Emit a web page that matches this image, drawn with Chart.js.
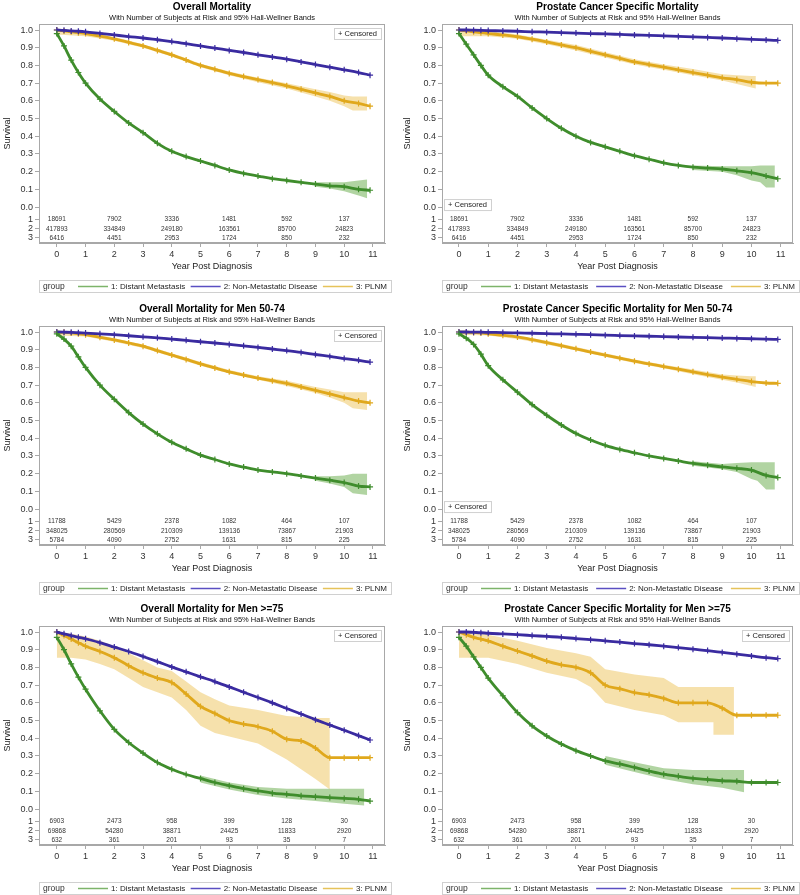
<!DOCTYPE html>
<html>
<head>
<meta charset="utf-8">
<script src="https://cdn.jsdelivr.net/npm/chart.js@4"></script>
<style>
  body { margin: 0; background: #fff; overflow: hidden; }
  canvas { position: absolute; }
</style>
</head>
<body>
<canvas id="c1" width="400" height="300" style="left:0;top:0"></canvas>
<canvas id="c2" width="400" height="300" style="left:400px;top:0"></canvas>
<canvas id="c3" width="400" height="300" style="left:0;top:302px"></canvas>
<canvas id="c4" width="400" height="300" style="left:400px;top:302px"></canvas>
<canvas id="c5" width="400" height="300" style="left:0;top:602px"></canvas>
<canvas id="c6" width="400" height="300" style="left:400px;top:602px"></canvas>
<script>
// time grid the curves were read at (years)
const years = [0, 0.25, 0.5, 0.75, 1, 1.5, 2, 2.5, 3, 3.5, 4, 4.5, 5, 5.5, 6, 6.5, 7, 7.5, 8, 8.5, 9, 9.5, 10, 10.5, 10.9];
const riskYears = [0, 2, 4, 6, 8, 10];
const xTicks = [0, 1, 2, 3, 4, 5, 6, 7, 8, 9, 10, 11];
const yTicks = [0, 0.1, 0.2, 0.3, 0.4, 0.5, 0.6, 0.7, 0.8, 0.9, 1.0];
const groupNames = ['1: Distant Metastasis', '2: Non-Metastatic Disease', '3: PLNM'];
const subtitle = 'With Number of Subjects at Risk and 95% Hall-Wellner Bands';

// Overall Mortality
const p1Dm = [0.98, 0.91, 0.83, 0.76, 0.70, 0.61, 0.54, 0.475, 0.42, 0.36, 0.315, 0.285, 0.26, 0.235, 0.21, 0.19, 0.175, 0.16, 0.15, 0.14, 0.13, 0.12, 0.115, 0.10, 0.095];
const p1Nm = [1.0, 0.998, 0.995, 0.993, 0.99, 0.981, 0.972, 0.963, 0.955, 0.945, 0.935, 0.923, 0.91, 0.898, 0.885, 0.873, 0.86, 0.848, 0.835, 0.82, 0.805, 0.79, 0.775, 0.76, 0.745];
const p1Pl = [1.0, 0.995, 0.99, 0.985, 0.98, 0.966, 0.95, 0.93, 0.91, 0.885, 0.86, 0.83, 0.80, 0.778, 0.755, 0.737, 0.72, 0.703, 0.685, 0.665, 0.645, 0.625, 0.60, 0.585, 0.57];
const p1DmBandX = [9, 9.5, 10, 10.5, 10.8];
const p1DmBandLo = [0.115, 0.105, 0.09, 0.065, 0.05];
const p1DmBandHi = [0.14, 0.14, 0.14, 0.15, 0.155];
const p1PlBandX = [0, 1, 2, 3, 4, 5, 6, 7, 8, 9, 9.5, 10, 10.3, 10.8];
const p1PlBandLo = [0.975, 0.965, 0.94, 0.90, 0.85, 0.79, 0.745, 0.705, 0.67, 0.625, 0.60, 0.57, 0.545, 0.545];
const p1PlBandHi = [1.0, 0.995, 0.96, 0.92, 0.87, 0.81, 0.765, 0.73, 0.70, 0.665, 0.65, 0.63, 0.625, 0.625];

// Prostate Cancer Specific Mortality
const p2Dm = [0.98, 0.92, 0.86, 0.80, 0.745, 0.68, 0.625, 0.56, 0.50, 0.445, 0.40, 0.365, 0.34, 0.315, 0.29, 0.27, 0.25, 0.235, 0.225, 0.22, 0.215, 0.205, 0.195, 0.175, 0.16];
const p2Nm = [1.0, 1.0, 0.999, 0.998, 0.997, 0.995, 0.993, 0.99, 0.988, 0.985, 0.983, 0.98, 0.978, 0.975, 0.972, 0.97, 0.967, 0.964, 0.961, 0.958, 0.955, 0.951, 0.947, 0.944, 0.941];
const p2Pl = [1.0, 0.995, 0.99, 0.985, 0.98, 0.972, 0.962, 0.948, 0.933, 0.916, 0.90, 0.88, 0.86, 0.84, 0.82, 0.805, 0.79, 0.775, 0.76, 0.745, 0.73, 0.72, 0.705, 0.70, 0.70];
const p2DmBandX = [8, 9, 9.5, 10, 10.3, 10.5, 10.8];
const p2DmBandLo = [0.21, 0.20, 0.18, 0.15, 0.14, 0.11, 0.11];
const p2DmBandHi = [0.235, 0.23, 0.23, 0.23, 0.235, 0.235, 0.235];
const p2PlBandX = [0, 1, 2, 3, 4, 5, 6, 7, 8, 9, 9.5, 10, 10.15];
const p2PlBandLo = [0.965, 0.965, 0.95, 0.92, 0.885, 0.845, 0.805, 0.775, 0.745, 0.715, 0.695, 0.675, 0.67];
const p2PlBandHi = [1.0, 0.995, 0.975, 0.945, 0.915, 0.875, 0.835, 0.805, 0.78, 0.75, 0.745, 0.74, 0.74];

// Overall Mortality for Men 50-74
const p3Dm = [0.99, 0.96, 0.92, 0.86, 0.80, 0.70, 0.62, 0.545, 0.48, 0.425, 0.377, 0.34, 0.305, 0.28, 0.255, 0.237, 0.22, 0.21, 0.20, 0.187, 0.175, 0.163, 0.15, 0.13, 0.125];
const p3Nm = [1.0, 0.999, 0.998, 0.996, 0.994, 0.99, 0.985, 0.979, 0.973, 0.967, 0.96, 0.953, 0.945, 0.938, 0.93, 0.922, 0.913, 0.904, 0.895, 0.885, 0.873, 0.862, 0.85, 0.84, 0.83];
const p3Pl = [1.0, 0.998, 0.995, 0.99, 0.985, 0.97, 0.955, 0.938, 0.92, 0.895, 0.87, 0.845, 0.82, 0.797, 0.775, 0.757, 0.74, 0.725, 0.71, 0.69, 0.67, 0.65, 0.63, 0.61, 0.60];
const p3DmBandX = [9, 9.5, 10, 10.3, 10.8];
const p3DmBandLo = [0.16, 0.145, 0.125, 0.09, 0.08];
const p3DmBandHi = [0.185, 0.185, 0.19, 0.20, 0.20];
const p3PlBandX = [0, 1, 2, 3, 4, 5, 6, 7, 8, 9, 9.5, 10, 10.3, 10.8];
const p3PlBandLo = [0.98, 0.975, 0.945, 0.91, 0.86, 0.81, 0.765, 0.73, 0.695, 0.655, 0.63, 0.60, 0.57, 0.56];
const p3PlBandHi = [1.0, 0.995, 0.965, 0.93, 0.88, 0.83, 0.785, 0.75, 0.725, 0.69, 0.675, 0.66, 0.66, 0.66];

// Prostate Cancer Specific Mortality for Men 50-74
const p4Dm = [0.99, 0.965, 0.93, 0.875, 0.81, 0.73, 0.66, 0.59, 0.53, 0.475, 0.427, 0.39, 0.36, 0.337, 0.318, 0.30, 0.286, 0.272, 0.258, 0.248, 0.238, 0.23, 0.22, 0.19, 0.178];
const p4Nm = [1.0, 1.0, 0.999, 0.999, 0.998, 0.997, 0.995, 0.993, 0.991, 0.989, 0.987, 0.985, 0.982, 0.98, 0.978, 0.976, 0.974, 0.972, 0.97, 0.968, 0.966, 0.964, 0.962, 0.96, 0.958];
const p4Pl = [1.0, 0.999, 0.997, 0.995, 0.99, 0.982, 0.972, 0.957, 0.94, 0.923, 0.905, 0.887, 0.87, 0.852, 0.835, 0.82, 0.805, 0.79, 0.775, 0.76, 0.745, 0.733, 0.72, 0.712, 0.71];
const p4DmBandX = [8, 9, 9.5, 10, 10.2, 10.5, 10.8];
const p4DmBandLo = [0.245, 0.225, 0.21, 0.17, 0.16, 0.11, 0.11];
const p4DmBandHi = [0.27, 0.255, 0.26, 0.265, 0.265, 0.265, 0.265];
const p4PlBandX = [0, 1, 2, 3, 4, 5, 6, 7, 8, 9, 9.5, 10, 10.15];
const p4PlBandLo = [0.985, 0.98, 0.96, 0.93, 0.895, 0.86, 0.825, 0.795, 0.762, 0.73, 0.715, 0.695, 0.69];
const p4PlBandHi = [1.0, 1.0, 0.98, 0.95, 0.915, 0.88, 0.845, 0.815, 0.788, 0.76, 0.755, 0.75, 0.75];

// Overall Mortality for Men >=75
const p5Dm = [0.97, 0.90, 0.82, 0.745, 0.677, 0.555, 0.45, 0.376, 0.316, 0.263, 0.225, 0.195, 0.173, 0.15, 0.132, 0.115, 0.103, 0.09, 0.083, 0.075, 0.07, 0.065, 0.06, 0.055, 0.045];
const p5Nm = [1.0, 0.99, 0.98, 0.97, 0.962, 0.94, 0.915, 0.89, 0.862, 0.833, 0.803, 0.775, 0.747, 0.72, 0.69, 0.66, 0.63, 0.60, 0.568, 0.537, 0.505, 0.475, 0.445, 0.415, 0.39];
const p5Pl = [1.0, 0.98, 0.96, 0.94, 0.92, 0.89, 0.855, 0.81, 0.77, 0.74, 0.715, 0.65, 0.58, 0.54, 0.50, 0.48, 0.465, 0.44, 0.395, 0.385, 0.345, 0.29, 0.29, 0.29, 0.29];
const p5DmBandX = [5, 6, 7, 8, 9, 10, 10.7];
const p5DmBandLo = [0.15, 0.11, 0.08, 0.06, 0.045, 0.03, 0.02];
const p5DmBandHi = [0.19, 0.15, 0.125, 0.115, 0.115, 0.115, 0.115];
const p5PlBandX = [0, 0.5, 1, 1.5, 2, 2.5, 3, 3.5, 4, 4.5, 5, 5.5, 6, 7, 8, 9, 9.5];
const p5PlBandLo = [0.855, 0.855, 0.845, 0.82, 0.79, 0.74, 0.69, 0.66, 0.63, 0.56, 0.47, 0.43, 0.41, 0.37, 0.28, 0.17, 0.11];
const p5PlBandHi = [1.0, 0.99, 0.975, 0.95, 0.92, 0.88, 0.84, 0.80, 0.78, 0.72, 0.66, 0.62, 0.585, 0.56, 0.525, 0.515, 0.515];

// Prostate Cancer Specific Mortality for Men >=75
const p6Dm = [0.97, 0.92, 0.86, 0.80, 0.74, 0.64, 0.545, 0.47, 0.413, 0.367, 0.33, 0.30, 0.272, 0.255, 0.235, 0.215, 0.197, 0.185, 0.173, 0.167, 0.16, 0.157, 0.15, 0.15, 0.15];
const p6Nm = [1.0, 1.0, 0.998, 0.996, 0.993, 0.989, 0.985, 0.98, 0.975, 0.97, 0.963, 0.957, 0.95, 0.943, 0.935, 0.928, 0.92, 0.912, 0.903, 0.895, 0.885, 0.875, 0.865, 0.855, 0.85];
const p6Pl = [1.0, 0.985, 0.97, 0.96, 0.95, 0.92, 0.893, 0.865, 0.836, 0.815, 0.80, 0.77, 0.70, 0.68, 0.658, 0.645, 0.625, 0.60, 0.60, 0.60, 0.57, 0.53, 0.53, 0.53, 0.53];
const p6DmBandX = [5, 6, 7, 8, 9, 9.75];
const p6DmBandLo = [0.25, 0.21, 0.17, 0.14, 0.12, 0.095];
const p6DmBandHi = [0.30, 0.265, 0.23, 0.22, 0.22, 0.22];
const p6PlBandX = [0, 1, 2, 3, 4, 4.5, 5, 6, 7, 7.5, 8.7, 8.7, 9.4];
const p6PlBandLo = [0.855, 0.855, 0.82, 0.77, 0.735, 0.69, 0.60, 0.56, 0.53, 0.49, 0.49, 0.42, 0.42];
const p6PlBandHi = [1.0, 0.985, 0.95, 0.91, 0.88, 0.86, 0.79, 0.76, 0.74, 0.69, 0.69, 0.69, 0.69];

// number of subjects at risk (rows: group 1, 2, 3)
const riskAll = [[18691, 7902, 3336, 1481, 592, 137], [417893, 334849, 249180, 163561, 85700, 24823], [6416, 4451, 2953, 1724, 850, 232]];
const risk5074 = [[11788, 5429, 2378, 1082, 464, 107], [348025, 280569, 210309, 139136, 73867, 21903], [5784, 4090, 2752, 1631, 815, 225]];
const risk75 = [[6903, 2473, 958, 399, 128, 30], [69868, 54280, 38871, 24425, 11833, 2920], [632, 361, 201, 93, 35, 7]];

// styles
const FONT = "'Liberation Sans', Arial, sans-serif";
const lineColors = ['#3f8d2c', '#3a2ba0', '#e0a81c'];
const legendColors = ['#7db46a', '#5a4fc2', '#e6c35a'];
const bandColors = ['rgba(100,170,70,0.5)', null, 'rgba(238,196,90,0.5)'];
const rowVals = [-0.068, -0.123, -0.174];

Chart.defaults.font.family = FONT;
Chart.defaults.color = '#222';

const xy = (xs, ys) => xs.map((x, i) => ({ x: x, y: ys[i] }));

// frame, at-risk table, censored box and group legend
const kmPlugin = {
    id: 'km',
    afterDraw(chart) {
        const o = chart.options.plugins.km;
        const { ctx, chartArea: a, scales: { x, y } } = chart;
        ctx.save();
        ctx.strokeStyle = '#a8a8a8';
        ctx.lineWidth = 1;
        ctx.strokeRect(a.left + 0.5, a.top + 0.5, a.right - a.left - 1, a.bottom - a.top - 1);

        // at risk numbers
        ctx.fillStyle = '#333';
        ctx.font = '6.5px ' + FONT;
        ctx.textAlign = 'center';
        ctx.textBaseline = 'middle';
        o.risk.forEach((row, r) => {
            row.forEach((n, i) => {
                ctx.fillText(String(n), x.getPixelForValue(riskYears[i]), y.getPixelForValue(rowVals[r]));
            });
        });

        // censored box
        ctx.font = '7.5px ' + FONT;
        const cw = ctx.measureText('+ Censored').width + 8;
        let cx, cy;
        if (o.censor === 'tr') { cx = a.right - 4 - cw; cy = a.top + 4; }
        else { cx = a.left + 2; cy = y.getPixelForValue(0) - 8; }
        ctx.fillStyle = '#fff';
        ctx.fillRect(cx, cy, cw, 11);
        ctx.strokeStyle = '#d0d0d0';
        ctx.strokeRect(cx + 0.5, cy + 0.5, cw, 11);
        ctx.fillStyle = '#222';
        ctx.textAlign = 'left';
        ctx.fillText('+ Censored', cx + 4, cy + 6);

        // group legend
        const ly = a.bottom + 37;
        const lr = a.right + 6;
        ctx.strokeStyle = '#d0d0d0';
        ctx.strokeRect(a.left + 0.5, ly + 0.5, lr - a.left, 12);
        ctx.font = '8.5px ' + FONT;
        ctx.fillStyle = '#333';
        ctx.fillText('group', a.left + 4, ly + 7);
        ctx.font = '8px ' + FONT;
        const widths = groupNames.map(g => ctx.measureText(g).width);
        const lineW = 30;
        const startX = a.left + 39;
        const total = widths.reduce((s, w) => s + w + lineW + 3, 0);
        const gap = (lr - 4 - startX - total) / 2;
        let px = startX;
        groupNames.forEach((g, i) => {
            ctx.strokeStyle = legendColors[i];
            ctx.lineWidth = 1.5;
            ctx.beginPath();
            ctx.moveTo(px, ly + 6.5);
            ctx.lineTo(px + lineW, ly + 6.5);
            ctx.stroke();
            ctx.fillStyle = '#222';
            ctx.fillText(g, px + lineW + 3, ly + 7);
            px += lineW + 3 + widths[i] + gap;
        });
        ctx.restore();
    }
};

function makePanel(id, title, curves, bands, risk, censor, side) {
    const datasets = [];
    curves.forEach((c, i) => {
        datasets.push({
            data: xy(years, c),
            borderColor: lineColors[i],
            borderWidth: 2.8,
            pointStyle: 'cross',
            pointRadius: 3,
            pointBorderWidth: 1.2,
            pointBorderColor: lineColors[i],
            cubicInterpolationMode: 'monotone',
            fill: false,
            order: 0
        });
    });
    bands.forEach(b => {
        datasets.push({
            data: xy(b.x, b.lo), borderWidth: 0, pointRadius: 0, fill: false, order: 1
        });
        datasets.push({
            data: xy(b.x, b.hi), borderWidth: 0, pointRadius: 0,
            fill: '-1', backgroundColor: bandColors[b.g], order: 1
        });
    });

    return new Chart(document.getElementById(id), {
        type: 'line',
        data: { datasets: datasets },
        options: {
            responsive: false,
            animation: false,
            devicePixelRatio: 1,
            layout: { padding: { top: 1, left: 0, right: side === 'left' ? 15 : 7, bottom: 27 } },
            plugins: {
                legend: { display: false },
                tooltip: { enabled: false },
                title: {
                    display: true, text: title, fullSize: false, color: '#000',
                    font: { size: 10, weight: 'bold' }, padding: { top: 0, bottom: 0 }
                },
                subtitle: {
                    display: true, text: subtitle, fullSize: false, color: '#111',
                    font: { size: 7.5 }, padding: { top: 0, bottom: 2 }
                },
                km: { risk: risk, censor: censor }
            },
            scales: {
                x: {
                    type: 'linear',
                    min: side === 'left' ? -0.62 : -0.58,
                    max: 11.42,
                    afterBuildTicks: s => { s.ticks = xTicks.map(v => ({ value: v })); },
                    afterFit: s => { s.height = 30; },
                    ticks: { font: { size: 9 }, color: '#333', padding: 2, autoSkip: false, maxRotation: 0 },
                    grid: { drawOnChartArea: false, tickLength: 4, color: '#a8a8a8' },
                    border: { color: '#a8a8a8' },
                    title: { display: true, text: 'Year Post Diagnosis', font: { size: 9 }, color: '#222', padding: { top: 0, bottom: 1 } }
                },
                y: {
                    min: -0.203,
                    max: 1.034,
                    afterBuildTicks: s => { s.ticks = rowVals.slice().reverse().concat(yTicks).map(v => ({ value: v })); },
                    afterFit: s => { s.width = side === 'left' ? 39 : 42; },
                    ticks: {
                        font: { size: 9 }, color: '#333', padding: 2, autoSkip: false,
                        callback: v => v < 0 ? String(rowVals.indexOf(v) + 1) : v.toFixed(1)
                    },
                    grid: { drawOnChartArea: false, tickLength: 4, color: '#a8a8a8' },
                    border: { color: '#a8a8a8' },
                    title: { display: true, text: 'Survival', font: { size: 9 }, color: '#222', padding: { top: 2, bottom: 0 } }
                }
            }
        },
        plugins: [kmPlugin]
    });
}

makePanel('c1', 'Overall Mortality', [p1Dm, p1Nm, p1Pl],
    [{ g: 0, x: p1DmBandX, lo: p1DmBandLo, hi: p1DmBandHi }, { g: 2, x: p1PlBandX, lo: p1PlBandLo, hi: p1PlBandHi }],
    riskAll, 'tr', 'left');
makePanel('c2', 'Prostate Cancer Specific Mortality', [p2Dm, p2Nm, p2Pl],
    [{ g: 0, x: p2DmBandX, lo: p2DmBandLo, hi: p2DmBandHi }, { g: 2, x: p2PlBandX, lo: p2PlBandLo, hi: p2PlBandHi }],
    riskAll, 'bl', 'right');
makePanel('c3', 'Overall Mortality for Men 50-74', [p3Dm, p3Nm, p3Pl],
    [{ g: 0, x: p3DmBandX, lo: p3DmBandLo, hi: p3DmBandHi }, { g: 2, x: p3PlBandX, lo: p3PlBandLo, hi: p3PlBandHi }],
    risk5074, 'tr', 'left');
makePanel('c4', 'Prostate Cancer Specific Mortality for Men 50-74', [p4Dm, p4Nm, p4Pl],
    [{ g: 0, x: p4DmBandX, lo: p4DmBandLo, hi: p4DmBandHi }, { g: 2, x: p4PlBandX, lo: p4PlBandLo, hi: p4PlBandHi }],
    risk5074, 'bl', 'right');
makePanel('c5', 'Overall Mortality for Men >=75', [p5Dm, p5Nm, p5Pl],
    [{ g: 0, x: p5DmBandX, lo: p5DmBandLo, hi: p5DmBandHi }, { g: 2, x: p5PlBandX, lo: p5PlBandLo, hi: p5PlBandHi }],
    risk75, 'tr', 'left');
makePanel('c6', 'Prostate Cancer Specific Mortality for Men >=75', [p6Dm, p6Nm, p6Pl],
    [{ g: 0, x: p6DmBandX, lo: p6DmBandLo, hi: p6DmBandHi }, { g: 2, x: p6PlBandX, lo: p6PlBandLo, hi: p6PlBandHi }],
    risk75, 'tr', 'right');
</script>
</body>
</html>
